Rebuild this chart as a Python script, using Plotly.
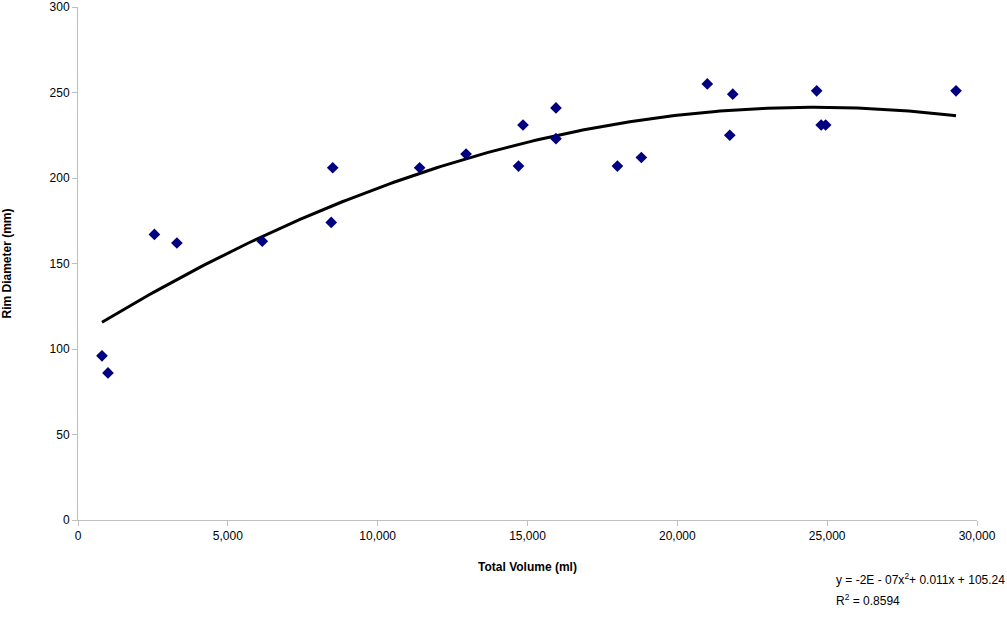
import numpy as np
import plotly.graph_objects as go

total_volume = [800, 1000, 2550, 3300, 6150, 8450, 8500, 11400, 12950, 14700, 14850,
                15950, 15950, 18000, 18800, 21000, 21750, 21850, 24650, 24800, 24950, 29300]
rim_diameter = [96, 86, 167, 162, 163, 174, 206, 206, 214, 207, 231,
                241, 223, 207, 212, 255, 225, 249, 251, 231, 231, 251]

x_ticks = [0, 5000, 10000, 15000, 20000, 25000, 30000]
x_tick_labels = ["0", "5,000", "10,000", "15,000", "20,000", "25,000", "30,000"]
y_ticks = [0, 50, 100, 150, 200, 250, 300]

coef = np.polyfit(total_volume, rim_diameter, 2)
xs = np.linspace(min(total_volume), max(total_volume), 200)
ys = np.polyval(coef, xs)

fig = go.Figure()
fig.add_trace(go.Scatter(x=xs, y=ys, mode="lines", line=dict(color="black", width=3),
                         showlegend=False, hoverinfo="skip"))
fig.add_trace(go.Scatter(x=total_volume, y=rim_diameter, mode="markers",
                         marker=dict(symbol="diamond", size=9, color="#000080"),
                         showlegend=False))

family = "Liberation Sans, Arial, sans-serif"
tickfont = dict(family=family, size=12, color="black")
titlefont = dict(family=family, size=12, color="black")
eqfont = dict(family=family, size=12, color="black")

fig.update_layout(
    width=1007, height=617,
    margin=dict(l=78, r=30, t=7, b=97),
    plot_bgcolor="white", paper_bgcolor="white",
    font=tickfont,
    xaxis=dict(range=[0, 30000], tickvals=x_ticks, ticktext=x_tick_labels,
               showgrid=False, zeroline=False, showline=True, linecolor="#bfbfbf",
               linewidth=1, ticks="outside", ticklen=5, tickcolor="#bfbfbf",
               automargin=False, ticklabeloverflow="allow",
               title=dict(text="<b>Total Volume (ml)</b>", standoff=20, font=titlefont),
               tickfont=tickfont),
    yaxis=dict(range=[0, 300], tickvals=y_ticks, showgrid=False, zeroline=False,
               showline=True, linecolor="#bfbfbf", linewidth=1, ticks="outside",
               ticklen=5, tickcolor="#bfbfbf",
               automargin=False, ticklabeloverflow="allow",
               title=dict(text="<b>Rim Diameter (mm)</b>", standoff=35, font=titlefont),
               tickfont=tickfont),
    annotations=[
        dict(xref="paper", yref="paper", x=(834 - 78) / 899, y=-(579 - 520) / 513,
             xanchor="left", yanchor="middle", showarrow=False, align="left",
             text="y = -2E - 07x<sup>2</sup>+ 0.011x + 105.24", font=eqfont),
        dict(xref="paper", yref="paper", x=(834 - 78) / 899, y=-(600 - 520) / 513,
             xanchor="left", yanchor="middle", showarrow=False, align="left",
             text="R<sup>2</sup> = 0.8594", font=eqfont),
    ],
)

fig.write_html("out.html")
